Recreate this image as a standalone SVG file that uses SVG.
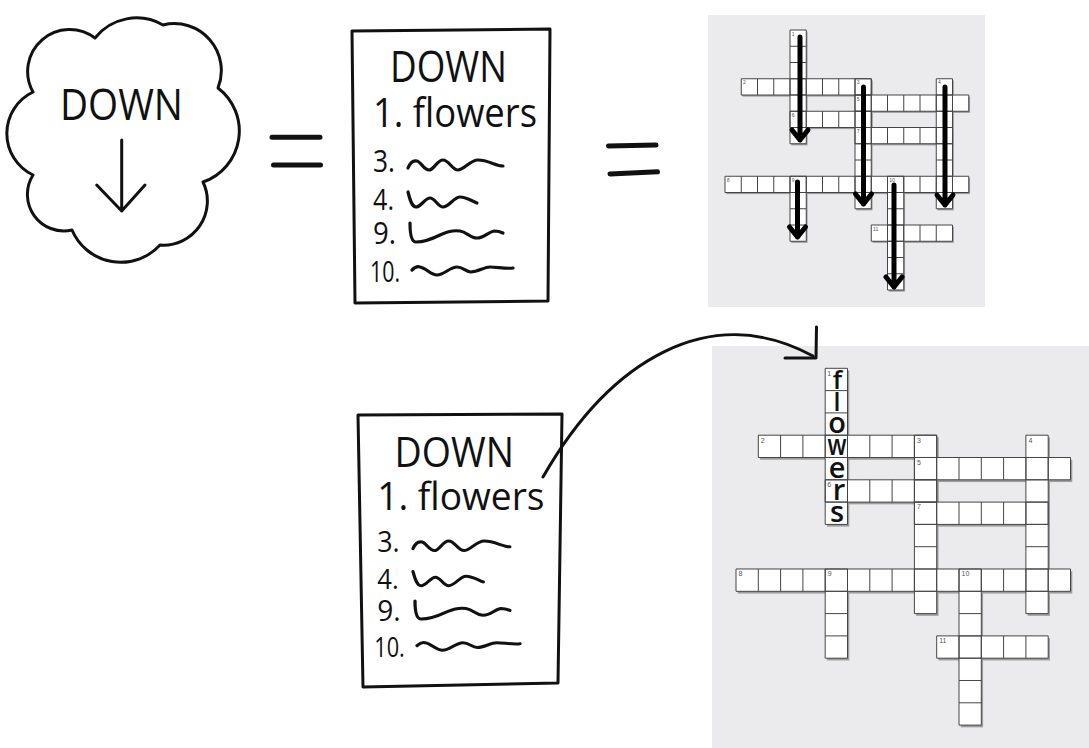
<svg xmlns="http://www.w3.org/2000/svg" xmlns:xlink="http://www.w3.org/1999/xlink" width="1089" height="748" viewBox="0 0 1089 748">
<style>
.hand{font-family:"Open Sans","Liberation Sans",sans-serif;fill:#111;}
.ink{fill:none;stroke:#111;stroke-width:3;stroke-linecap:round;stroke-linejoin:round;}
.sq{fill:none;stroke:#111;stroke-width:3.2;stroke-linecap:round;stroke-linejoin:round;}
.eq{fill:none;stroke:#111;stroke-width:5;stroke-linecap:round;}
.thick{fill:none;stroke:#000;stroke-width:5;stroke-linecap:round;stroke-linejoin:round;}
.panel{fill:#ebebed;}
.num{font-family:"Liberation Sans",Arial,sans-serif;fill:#555;}
.n1{font-size:5px;}
.n2{font-size:7px;}
.letter{font-family:"Open Sans","Liberation Sans",sans-serif;font-weight:600;fill:#111;text-anchor:middle;}
</style>
<defs>
<g id="words">
<rect x="1" y="3" width="8" height="1" vector-effect="non-scaling-stroke"/>
<rect x="8" y="4" width="7" height="1" vector-effect="non-scaling-stroke"/>
<rect x="4" y="5" width="5" height="1" vector-effect="non-scaling-stroke"/>
<rect x="8" y="6" width="6" height="1" vector-effect="non-scaling-stroke"/>
<rect x="0" y="9" width="15" height="1" vector-effect="non-scaling-stroke"/>
<rect x="9" y="12" width="5" height="1" vector-effect="non-scaling-stroke"/>
<rect x="4" y="0" width="1" height="7" vector-effect="non-scaling-stroke"/>
<rect x="8" y="3" width="1" height="8" vector-effect="non-scaling-stroke"/>
<rect x="13" y="3" width="1" height="8" vector-effect="non-scaling-stroke"/>
<rect x="4" y="9" width="1" height="4" vector-effect="non-scaling-stroke"/>
<rect x="10" y="9" width="1" height="7" vector-effect="non-scaling-stroke"/>
</g>
<path id="divs" vector-effect="non-scaling-stroke" d="M2,3v1M3,3v1M4,3v1M5,3v1M6,3v1M7,3v1M8,3v1M9,4v1M10,4v1M11,4v1M12,4v1M13,4v1M14,4v1M5,5v1M6,5v1M7,5v1M8,5v1M9,6v1M10,6v1M11,6v1M12,6v1M13,6v1M1,9v1M2,9v1M3,9v1M4,9v1M5,9v1M6,9v1M7,9v1M8,9v1M9,9v1M10,9v1M11,9v1M12,9v1M13,9v1M14,9v1M10,12v1M11,12v1M12,12v1M13,12v1M4,1h1M4,2h1M4,3h1M4,4h1M4,5h1M4,6h1M8,4h1M8,5h1M8,6h1M8,7h1M8,8h1M8,9h1M8,10h1M13,4h1M13,5h1M13,6h1M13,7h1M13,8h1M13,9h1M13,10h1M4,10h1M4,11h1M4,12h1M10,10h1M10,11h1M10,12h1M10,13h1M10,14h1M10,15h1"/>
<g id="grid">
<use xlink:href="#words" transform="translate(0.08,0.1)" fill="#9c9c9c"/>
<use xlink:href="#words" fill="#fff"/>
<use xlink:href="#words" fill="none" stroke="#454545" stroke-width="1"/>
<use xlink:href="#divs" fill="none" stroke="#454545" stroke-width="1"/>
</g>
<g id="listContent">
<text class="hand" x="390" y="82" font-size="44" textLength="117" lengthAdjust="spacingAndGlyphs">DOWN</text>
<text class="hand" x="373" y="127" font-size="40" textLength="164" lengthAdjust="spacingAndGlyphs">1. flowers</text>
<text class="hand" x="373" y="172" font-size="31" textLength="22" lengthAdjust="spacingAndGlyphs">3.</text>
<text class="hand" x="373" y="210" font-size="29" textLength="21" lengthAdjust="spacingAndGlyphs">4.</text>
<text class="hand" x="373" y="244" font-size="31" textLength="23" lengthAdjust="spacingAndGlyphs">9.</text>
<text class="hand" x="370" y="282" font-size="29" textLength="30" lengthAdjust="spacingAndGlyphs">10.</text>
<path class="sq" d="M408,168 C410,163 413,160 417,161 C421,162 424,170 429,170 C434,170 437,160 443,160 C449,160 452,170 458,170 C464,170 470,160 478,160 C488,160 496,166 503,166"/>
<path class="sq" d="M408,192 C410,200 412,207 416,207 C421,207 425,198 430,198 C435,198 438,207 443,207 C449,207 454,197 460,197 C466,197 472,201 477,203"/>
<path class="sq" d="M410,223 C410,233 411,242 416,242 C423,242 430,240 440,235 C447,232 452,230 460,231 C467,232 470,238 477,238 C484,238 488,232 494,231 C498,231 501,232 503,233"/>
<path class="sq" d="M412,270 C414,268 417,266 420,267 C426,268 431,275 437,275 C444,275 450,267 457,267 C463,267 466,272 471,272 C478,272 484,267 490,267 C497,267 506,269 513,268"/>
</g>
</defs>

<g id="cloud">
<path class="ink" d="M33,92 A42,42 0 0 1 95,38 A53,53 0 0 1 163,25 A47,47 0 0 1 218,88 A54,54 0 0 1 203,182 A44,44 0 0 1 160,245 A53,53 0 0 1 72,230 A36.5,36.5 0 0 1 33,175 A46,46 0 0 1 33,92 Z"/>
<text class="hand" x="60" y="120" font-size="44" textLength="123" lengthAdjust="spacingAndGlyphs">DOWN</text>
<path class="ink" d="M121.7,140 V211 M96.7,185 L121.7,211 L145,185"/>
</g>

<g id="equals1">
<path class="eq" d="M272,137.3 H320 M273.5,165 H320.5"/>
</g>

<g id="list1">
<polygon class="ink" points="352,31 550,29 548,301 355,303"/>
<use xlink:href="#listContent"/>
</g>

<g id="equals2">
<path class="eq" d="M608.5,146 L656,145 M610,174 L657.5,171.8"/>
</g>

<g id="crossword1">
<rect class="panel" x="708" y="15" width="277" height="292"/>
<use xlink:href="#grid" transform="translate(725,30) scale(16.25)"/>
<g class="num n1">
<text x="791.8" y="35.5">1</text>
<text x="743" y="84.3">2</text>
<text x="856.8" y="84.3">3</text>
<text x="938" y="84.3">4</text>
<text x="856.8" y="100.5">5</text>
<text x="791.8" y="116.8">6</text>
<text x="856.8" y="133">7</text>
<text x="726.8" y="181.8">8</text>
<text x="791.8" y="181.8">9</text>
<text x="889.3" y="181.8">10</text>
<text x="873" y="230.5">11</text>
</g>
<g id="downArrows">
<path class="thick" d="M800,37 V140 M792,130 L800,140 L808,130"/>
<path class="thick" d="M863.5,87 V204 M855.5,194 L863.5,204 L871.5,194"/>
<path class="thick" d="M945,87 V205 M937,195 L945,205 L953,195"/>
<path class="thick" d="M797.5,182 V237 M789.5,227 L797.5,237 L805.5,227"/>
<path class="thick" d="M894,185 V287 M886,277 L894,287 L902,277"/>
</g>
</g>

<g id="list2">
<polygon class="ink" points="358,415 562,414 558,683 363,687"/>
<use xlink:href="#listContent" transform="matrix(1.02,0,0,0.95,-3.2,389.1)"/>
</g>

<g id="crossword2">
<rect class="panel" x="712" y="346" width="377" height="402"/>
<use xlink:href="#grid" transform="translate(736,368.3) scale(22.3)"/>
<g class="num n2">
<text x="827.3" y="375.5">1</text>
<text x="760.8" y="442.5">2</text>
<text x="916.9" y="442.5">3</text>
<text x="1028.4" y="442.5">4</text>
<text x="916.9" y="464.8">5</text>
<text x="827.3" y="487.1">6</text>
<text x="916.9" y="509.4">7</text>
<text x="738.5" y="576.3">8</text>
<text x="827.7" y="576.3">9</text>
<text x="961.5" y="576.3">10</text>
<text x="939.2" y="643.2">11</text>
</g>
<g id="answer">
<text class="letter" x="837.5" y="389" font-size="26">f</text>
<text class="letter" x="837" y="410.5" font-size="25">l</text>
<text class="letter" x="837" y="432.5" font-size="29">o</text>
<text class="letter" x="837" y="455" font-size="29" textLength="19" lengthAdjust="spacingAndGlyphs">w</text>
<text class="letter" x="837" y="477.5" font-size="29">e</text>
<text class="letter" x="839" y="499.5" font-size="29">r</text>
<text class="letter" x="837" y="521.5" font-size="29">s</text>
</g>
</g>

<g id="connectors">
<path class="ink" d="M543,477 C610,360 710,300 813,356"/>
<path class="ink" d="M785,358 L816,358 L816.5,327"/>
</g>
</svg>
